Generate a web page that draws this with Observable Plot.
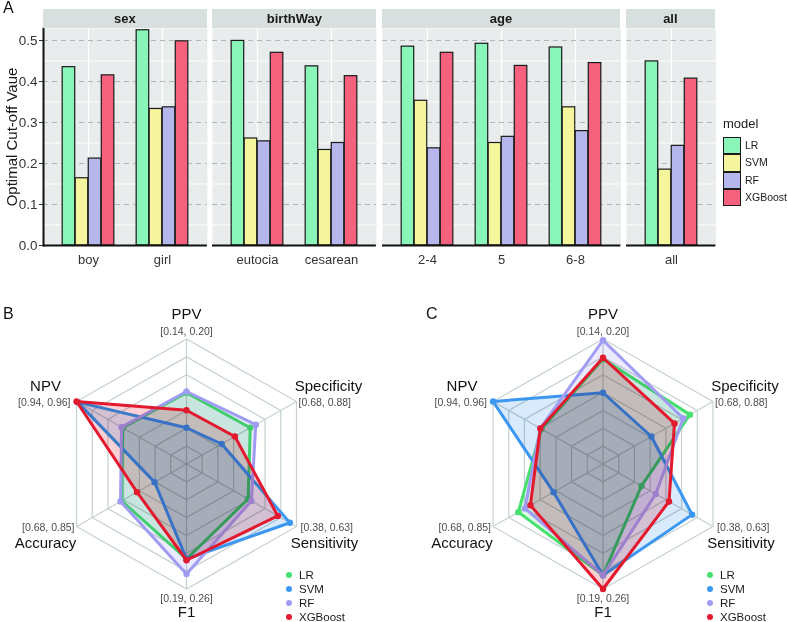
<!DOCTYPE html>
<html><head><meta charset="utf-8">
<script src="https://cdn.jsdelivr.net/npm/d3@7"></script>
<script src="https://cdn.jsdelivr.net/npm/@observablehq/plot@0.6"></script>
<style>
body{margin:0;background:#fff;font-family:"Liberation Sans",Arial,sans-serif;}
#fig{position:relative;width:788px;height:622px;overflow:hidden;background:#fff;}
.abs{position:absolute;}
.strip{position:absolute;background:#D8DFDF;font-weight:bold;font-size:13px;color:#1a1a1a;text-align:center;line-height:19px;height:19px;top:9px;}
.letter{position:absolute;font-size:16px;line-height:16px;color:#111;}
.lgA{position:absolute;font-size:10.5px;color:#1a1a1a;}
.lgR{position:absolute;font-size:11.5px;color:#1a1a1a;line-height:14px;}
.dot{position:absolute;width:6px;height:6px;border-radius:50%;}
</style></head><body><div id="fig"></div>
<script>
// ---------- Panel A data ----------
const models = ["LR", "SVM", "RF", "XGBoost"];
const barColors = ["#8AF5B9", "#F4F59C", "#B4B6EC", "#F6627E"];
const facetNames = ["sex", "birthWay", "age", "all"];
const categories = ["boy", "girl", "eutocia", "cesarean", "2-4", "5", "6-8", "all"];
const categoryFacet = ["sex", "sex", "birthWay", "birthWay", "age", "age", "age", "all"];
const cutoffLR  = [0.435, 0.525, 0.499, 0.437, 0.485, 0.492, 0.483, 0.449];
const cutoffSVM = [0.164, 0.333, 0.261, 0.233, 0.353, 0.250, 0.337, 0.185];
const cutoffRF  = [0.212, 0.337, 0.254, 0.250, 0.237, 0.265, 0.279, 0.243];
const cutoffXGB = [0.415, 0.498, 0.470, 0.413, 0.470, 0.438, 0.445, 0.407];
const yTicks = [0, 0.1, 0.2, 0.3, 0.4, 0.5];
const yMinor = [0.05, 0.15, 0.25, 0.35, 0.45];
const yTitle = "Optimal Cut-off Vaue";

// ---------- Radar data ----------
const metrics = ["PPV", "Specificity", "Sensitivity", "F1", "Accuracy", "NPV"];
const metricMin = [0.14, 0.68, 0.38, 0.19, 0.68, 0.94];
const metricMax = [0.20, 0.88, 0.63, 0.26, 0.85, 0.96];
const radarColors = ["#45E06E", "#3C97F0", "#A09CF4", "#E3192E"];
// panel B
const bLR  = [0.1742, 0.796, 0.520,  0.2432, 0.7803, 0.9516];
const bSVM = [0.1574, 0.744, 0.615,  0.2432, 0.7293, 0.9598];
const bRF  = [0.1748, 0.806, 0.5275, 0.2516, 0.782,  0.9518];
const bXGB = [0.1658, 0.768, 0.5875, 0.2439, 0.7565, 0.9600];
// panel C
const cLR  = [0.1904, 0.838, 0.4675, 0.2523, 0.8109, 0.9512];
const cSVM = [0.1742, 0.768, 0.5825, 0.2523, 0.7565, 0.9600];
const cRF  = [0.1994, 0.826, 0.500,  0.2523, 0.8007, 0.9514];
const cXGB = [0.1910, 0.810, 0.530,  0.2600, 0.7922, 0.9514];

const fig = document.getElementById("fig");
const FONT = "Liberation Sans, Arial, sans-serif";
function addDiv(cls, text, css) {
  const d = document.createElement("div");
  if (cls) d.className = cls;
  if (text != null) d.textContent = text;
  Object.assign(d.style, css || {});
  fig.appendChild(d);
  return d;
}

// ---------- Panel A ----------
const unit = 74.5, gap = 5.5, axisLeft = 43, panelTop = 28, panelH = 217, bottomM = 32;
const cutoffs = [cutoffLR, cutoffSVM, cutoffRF, cutoffXGB];
let xCursor = axisLeft;
facetNames.forEach((f, fi) => {
  const idx = categories.map((c, i) => i).filter(i => categoryFacet[i] === f);
  const cats = idx.map(i => categories[i]);
  const W = unit * (cats.length + 0.2);
  const mL = fi === 0 ? axisLeft : 0;
  const rows = models.flatMap((m, mi) => idx.map(i => ({cat: categories[i], model: m, value: cutoffs[mi][i]})));
  const marks = [
    Plot.frame({fill: "#E8ECEC", stroke: "none"}),
    Plot.ruleY(yMinor, {stroke: "white", strokeWidth: 1}),
    Plot.ruleX(cats, {stroke: "white", strokeWidth: 1.3}),
    Plot.ruleY(yTicks.slice(1), {stroke: "#B0B9B9", strokeWidth: 1.1, strokeDasharray: "5,4"}),
    ...models.map((m, mi) => Plot.barY(rows.filter(d => d.model === m), {
      x: "cat", y: "value", fill: barColors[mi], stroke: "#1a1a1a", strokeWidth: 1.2,
      insetLeft: unit * (0.15 + 0.175 * mi), insetRight: unit * (1 - 0.15 - 0.175 * (mi + 1))
    })),
    Plot.ruleY([0], {stroke: "#111", strokeWidth: 2}),
    Plot.axisX({tickSize: 0, tickPadding: 9, fontSize: 13, color: "#333", label: null})
  ];
  if (fi === 0) {
    marks.push(Plot.axisY({ticks: yTicks, tickFormat: d => d.toFixed(1), tickSize: 4, tickPadding: 2,
      fontSize: 13.5, color: "#333", label: null}));
    marks.push(Plot.frame({anchor: "left", stroke: "#111", strokeWidth: 2}));
  }
  const chart = Plot.plot({
    width: W + mL, height: panelH + bottomM,
    marginLeft: mL, marginRight: 0, marginTop: 0, marginBottom: bottomM,
    x: {domain: cats, paddingInner: 0, paddingOuter: 0.1},
    y: {domain: [0, 0.5293], ...(fi === 0 ? {} : {axis: null})},
    style: {fontFamily: FONT, background: "transparent", overflow: "visible"},
    marks
  });
  const wrap = addDiv("abs", null, {left: (xCursor - mL) + "px", top: panelTop + "px"});
  wrap.appendChild(chart);
  addDiv("strip", f, {left: xCursor + "px", width: W + "px"});
  xCursor += W + gap;
});
// y axis title
addDiv("abs", yTitle, {left: (12 - 110) + "px", top: (136.5 - 9) + "px", width: "220px", lineHeight: "18px",
  textAlign: "center", fontSize: "15px", color: "#1a1a1a", transform: "rotate(-90deg)"});
// legend A
addDiv("abs", "model", {left: "723px", top: "116px", fontSize: "13px", lineHeight: "15px", color: "#1a1a1a"});
models.forEach((m, mi) => {
  const top = 137 + 17.3 * mi;
  addDiv("abs", null, {left: "723px", top: top + "px", width: "17.5px", height: "17.3px", boxSizing: "border-box",
    border: "1.2px solid #1a1a1a", background: barColors[mi]});
  addDiv("lgA", m, {left: "745px", top: top + "px", lineHeight: "17.3px"});
});

// ---------- Radar panels ----------
const placements = [
  {tA: "middle", tdx: 0,   tdy: -24.5, rA: "middle", rdx: 0,  rdy: -7.5},
  {tA: "middle", tdx: 32,  tdy: -15,   rA: "start",  rdx: 2,  rdy: 1},
  {tA: "middle", tdx: 28,  tdy: 17,    rA: "start",  rdx: 4,  rdy: 1},
  {tA: "middle", tdx: 0,   tdy: 23.5,  rA: "middle", rdx: 0,  rdy: 9.5},
  {tA: "middle", tdx: -31, tdy: 17,    rA: "end",    rdx: -2, rdy: 1},
  {tA: "middle", tdx: -31, tdy: -15,   rA: "end",    rdx: -6, rdy: 1}
];
function radarPanel(series, left, cxPage) {
  const Rx = 127, Ry = 125, top = 270, cy = 463.5 - top, cx = cxPage - left;
  const W = 395, H = 352;
  const ang = metrics.map((m, i) => (90 - 60 * i) * Math.PI / 180);
  const rings = d3.range(1, 8).flatMap(k => metrics.map((m, i) => ({k, x: k / 7 * Math.cos(ang[i]), y: k / 7 * Math.sin(ang[i])})));
  const spokes = metrics.map((m, i) => ({m, i, x: Math.cos(ang[i]), y: Math.sin(ang[i]),
    range: `[${metricMin[i].toFixed(2)}, ${metricMax[i].toFixed(2)}]`}));
  const marks = [
    Plot.line(rings, {x: "x", y: "y", z: "k", curve: "linear-closed", stroke: "#C6D1D1", strokeWidth: 1.2}),
    Plot.link(spokes, {x1: () => 0, y1: () => 0, x2: "x", y2: "y", stroke: "#C6D1D1", strokeWidth: 1.2})
  ];
  series.forEach((vals, mi) => {
    const pts = vals.map((v, i) => {
      const fr = (v - metricMin[i]) / (metricMax[i] - metricMin[i]);
      return {x: fr * Math.cos(ang[i]), y: fr * Math.sin(ang[i])};
    });
    marks.push(Plot.line(pts, {x: "x", y: "y", curve: "linear-closed", fill: radarColors[mi], fillOpacity: 0.2,
      stroke: "none", mixBlendMode: "multiply"}));
    marks.push(Plot.line(pts, {x: "x", y: "y", curve: "linear-closed", fill: "none", stroke: radarColors[mi],
      strokeWidth: 3, strokeLinejoin: "round"}));
    marks.push(Plot.dot(pts, {x: "x", y: "y", r: 3.2, fill: radarColors[mi], stroke: "none"}));
  });
  spokes.forEach((s, i) => {
    const p = placements[i];
    marks.push(Plot.text([s], {x: "x", y: "y", text: "m", textAnchor: p.tA, dx: p.tdx, dy: p.tdy,
      fontSize: 15, fill: "#111"}));
    marks.push(Plot.text([s], {x: "x", y: "y", text: "range", textAnchor: p.rA, dx: p.rdx, dy: p.rdy,
      fontSize: 10.5, fill: "#4d4d4d"}));
  });
  const chart = Plot.plot({
    width: W, height: H, margin: 0,
    x: {domain: [-1, 1], range: [cx - Rx, cx + Rx], axis: null},
    y: {domain: [-1, 1], range: [cy + Ry, cy - Ry], axis: null},
    style: {fontFamily: FONT, background: "transparent", overflow: "visible"},
    marks
  });
  const wrap = addDiv("abs", null, {left: left + "px", top: top + "px"});
  wrap.appendChild(chart);
}
radarPanel([bLR, bSVM, bRF, bXGB], 0, 186);
radarPanel([cLR, cSVM, cRF, cXGB], 390, 602.5);

// radar legends
function radarLegend(dotX) {
  models.forEach((m, mi) => {
    const cyL = 574.5 + 14.3 * mi;
    addDiv("dot", null, {left: (dotX - 3) + "px", top: (cyL - 3) + "px", background: radarColors[mi]});
    addDiv("lgR", m, {left: (dotX + 10) + "px", top: (cyL - 7) + "px"});
  });
}
radarLegend(289);
radarLegend(710);

// panel letters
addDiv("letter", "A", {left: "3px", top: "0px"});
addDiv("letter", "B", {left: "3px", top: "306px"});
addDiv("letter", "C", {left: "426px", top: "306px"});
</script></body></html>
